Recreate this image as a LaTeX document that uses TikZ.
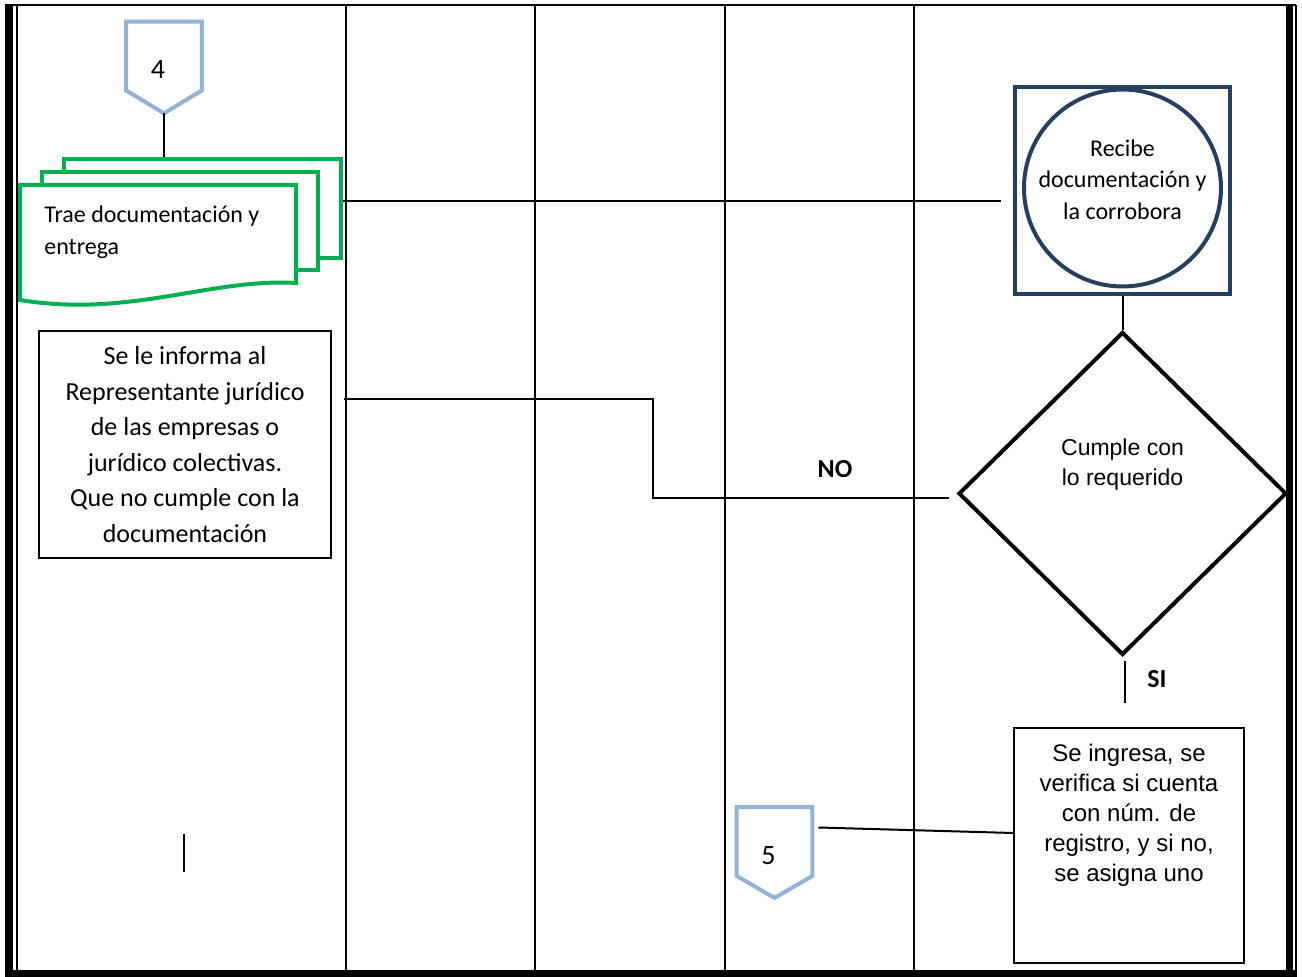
\documentclass[tikz,border=0pt]{standalone}
\usepackage{fontspec}
\setmainfont{Carlito}
\newfontfamily\arialfont{Liberation Sans}
\usepackage{tikz}
\usetikzlibrary{positioning}
\usetikzlibrary{shapes.geometric}

\definecolor{conblue}{HTML}{95B3D7}
\definecolor{docgreen}{HTML}{00B050}
\definecolor{procnavy}{HTML}{243F60}

\begin{document}
\begin{tikzpicture}[
                x = 0.5pt, y = -0.5pt,
                lane/.style = {line width = 1pt},
                flow/.style = {line width = 1pt},
                offpage/.style = {draw = conblue, line width = 2pt},
                connum/.style = {
                    minimum width = 37.5pt,
                    minimum height = 34pt,
                    inner sep = 0pt
                },
                connumtext/.style = {font = \fontsize{14}{16}\selectfont, xshift = -3pt, yshift = -7pt},
                docpage/.style = {draw = docgreen, line width = 2pt, fill = white, inner sep = 0pt},
                doctext/.style = {
                    anchor = north west,
                    align = left,
                    inner xsep = 12pt,
                    inner ysep = 10pt,
                    font = \fontsize{12}{16}\selectfont
                },
                procbox/.style = {draw = procnavy, line width = 2pt, minimum width = 107.5pt, minimum height = 103.5pt},
                proccircle/.style = {draw = procnavy, line width = 2pt, circle, minimum size = 98.5pt, inner sep = 0pt},
                decision/.style = {draw, diamond, aspect = 1, line width = 2pt, minimum width = 164pt, minimum height = 161.5pt, inner sep = 0pt},
                infobox/.style = {draw, line width = 1pt, align = center, font = \fontsize{13}{17.75}\selectfont},
                yesno/.style = {font = \bfseries\fontsize{13}{15}\selectfont}
            ]
            \useasboundingbox (0,0) rectangle (1302,977);

            % frame and lanes
            \draw[line width = 1.4pt] (5,5) -- (1296,5);
            \draw[line width = 4pt] (9,5) -- (9,977);
            \draw[lane] (16.5,5) -- (16.5,971);
            \draw[line width = 3.5pt] (1289.5,5) -- (1289.5,977);
            \draw[lane] (1296,5) -- (1296,977);
            \draw[line width = 3.5pt] (5,973.5) -- (1296,973.5);
            \foreach \x in {346,535,725,914}
                \draw[lane] (\x,5) -- (\x,971);

            % connector 4 and the documents
            \node[connum, label={[connumtext]center:4}] (c4) at (164,56) {};
            \draw[offpage] (c4.north west) -- (c4.north east) -- (c4.south east) -- ([yshift=-11.5pt]c4.south) -- (c4.south west) -- cycle;

            \node[docpage, minimum width = 138.5pt, minimum height = 49.5pt] (docC) at (202.5,208.5) {};
            \node[docpage, minimum width = 138pt, minimum height = 49pt] (docB) at (180,221) {};
            \draw[docpage] (20,185) -- (296,185) -- (296,283) .. controls (210,278) and (130,318) .. (20,300) -- cycle;
            \node[doctext] (trae) at (20,185) {Trae documentación y\\entrega};

            \draw[flow] ([yshift=-11.5pt]c4.south) -- (c4.south |- docC.north);

            % right lane
            \node[procbox] (proc) at (1122.5,190.5) {};
            \node[proccircle, label={[align=center, font=\fontsize{12}{15.75}\selectfont, yshift=4.25pt]center:Recibe\\documentación y\\la corrobora}] (recibe) at (1122.5,188) {};
            \node[decision, below=17pt of proc, label={[align=center, font=\arialfont\fontsize{11.5}{15}\selectfont, yshift=14.25pt]center:Cumple con\\lo requerido}] (cumple) {};

            \node[draw, line width = 1pt, minimum width = 115pt, minimum height = 117.5pt,
                  label={[anchor=north, yshift=-5pt, align=center, font=\arialfont\fontsize{12}{15}\selectfont]north:Se ingresa, se\\verifica si cuenta\\con núm. de\\registro, y si no,\\se asigna uno}] (ingresa) at (1129,845.5) {};

            \node[connum, label={[connumtext]center:5}] (c5) at (774.5,841.5) {};
            \draw[offpage] (c5.north west) -- (c5.north east) -- (c5.south east) -- ([yshift=-11pt]c5.south) -- (c5.south west) -- cycle;

            % left lane
            \node[infobox, minimum width = 146pt, minimum height = 113.5pt] (informa) at (185,444.5) {Se le informa al\\Representante jurídico\\de las empresas o\\jurídico colectivas.\\Que no cumple con la\\documentación};

            \coordinate (nobend) at (653,450);

            \draw[flow, shorten >= 6pt] ([yshift=3.5pt]docC.east) -- ([yshift=3.5pt]docC.east -| proc.west);
            \draw[flow] (proc.south) -- (cumple.north);
            \draw[flow, shorten <= 4pt, shorten >= 6pt] ([yshift=-2.5pt]cumple.west) -| (nobend) |- ([yshift=22.75pt]informa.east);
            \draw[flow, shorten <= 2pt, shorten >= 12pt] ([xshift=1pt]cumple.south) -- ([xshift=1pt]cumple.south |- ingresa.north);
            \draw[flow] ([xshift=3pt,yshift=7pt]c5.east) -- ([yshift=6.25pt]ingresa.west);
            \draw[flow] (184,834) -- (184,872);

            \node[yesno] (no) at (835,469) {NO};
            \node[yesno] (si) at (1157,679) {SI};

         \end{tikzpicture}
\end{document}
